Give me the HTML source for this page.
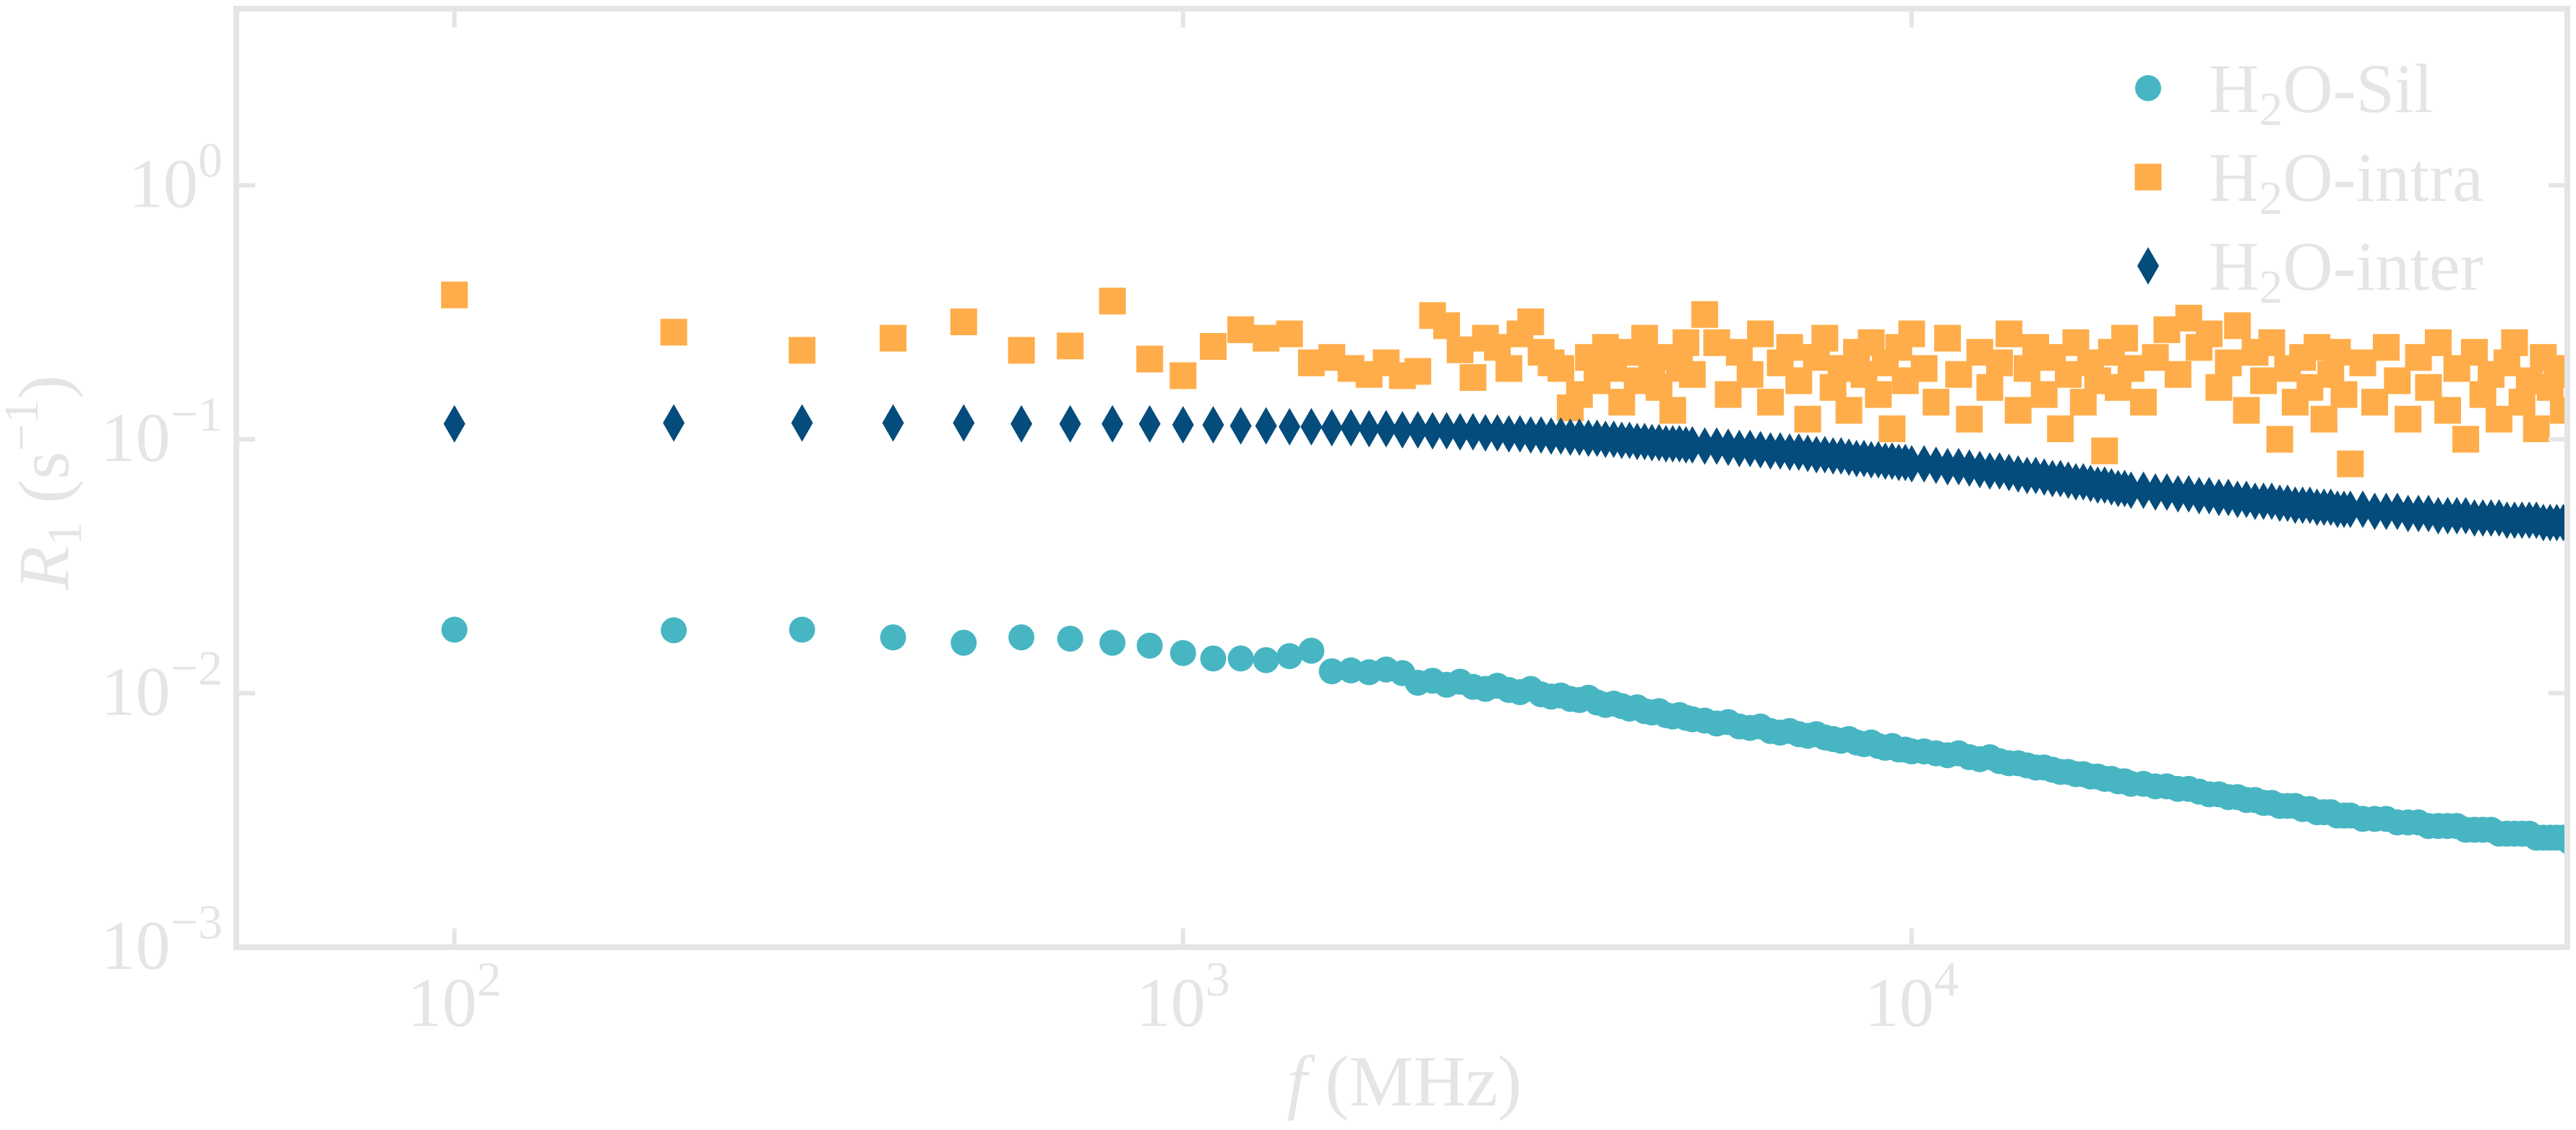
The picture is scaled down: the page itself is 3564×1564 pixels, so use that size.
<!DOCTYPE html>
<html><head><meta charset="utf-8">
<style>
html,body{margin:0;padding:0;background:#fff;}
svg{display:block;font-family:"Liberation Serif","DejaVu Serif",serif;}
</style></head>
<body>
<svg id="chart" width="3564" height="1564" viewBox="0 0 3564 1564" xmlns="http://www.w3.org/2000/svg">
<g id="marks"></g>
<g id="axes"></g>
<g id="legend"></g>
</svg>
<script>
const freqs = [100,200,300,400,500,600,700,800,900,1000,1100,1200,1300,1400,1500,1600,1700,1800,1900,2000,
2100,2200,2300,2400,2500,2600,2700,2800,2900,3000,3100,3200,3300,3400,3500,3600,3700,3800,3900,4000,4100,4200,4300,4400,4500,4600,4700,4800,4900,5000,
5200,5400,5600,5800,6000,6200,6400,6600,6800,7000,7200,7400,7600,7800,8000,8200,8400,8600,8800,9000,9200,9400,9600,9800,10000,
10400,10800,11200,11600,12000,12400,12800,13200,13600,14000,14400,14800,15200,15600,16000,16400,16800,17200,17600,18000,18400,18800,19200,19600,20000,
20800,21600,22400,23200,24000,24800,25600,26400,27200,28000,28800,29600,30400,31200,32000,32800,33600,34400,35200,36000,36800,37600,38400,39200,40000,
41600,43200,44800,46400,48000,49600,51200,52800,54400,56000,57600,59200,60800,62400,64000,65600,67200,68800,70400,72000,73600,75200,76800,78400,80000];
const silValues = [.0178,.0177,.0178,.0166,.0158,.0166,.0164,.0158,.0154,.0144,.0137,.0137,.0135,.0140,.0147,.0122,.0123,.0121,.0124,.0120,
.0110,.0112,.0108,.0111,.0106,.0104,.0107,.0103,.0101,.0104,.0099,.0097,.0098,.0095,.0094,.0096,.0092,.0090,.0091,.0089,.0087,.0088,.0085,.0084,.0085,.0082,.0081,.0082,.0080,.0079,
.0078,.0076,.0077,.0074,.0073,.0074,.0071,.0070,.0071,.0069,.0068,.0069,.0067,.0066,.0065,.0066,.0064,.0063,.0064,.0062,.0061,.0062,.0060,.0060,.0059,
.0059,.0058,.0057,.0058,.0056,.0055,.0056,.0054,.0053,.0053,.0052,.0051,.0051,.0050,.0049,.0049,.0048,.0048,.0047,.0047,.0046,.0046,.0045,.0045,.0044,
.0044,.0043,.0043,.0042,.0042,.0041,.0040,.0040,.0039,.0039,.0038,.0038,.0037,.0037,.0036,.0036,.0036,.0035,.0035,.0034,.0034,.0034,.0033,.0033,.0033,
.0032,.0032,.0032,.0031,.0031,.0031,.0030,.0030,.0030,.0030,.0029,.0029,.0029,.0029,.0028,.0028,.0028,.0028,.0028,.0027,.0027,.0027,.0027,.0027,.0026];
const intraValues = [.37,.264,.224,.25,.29,.224,.233,.35,.207,.178,.232,.27,.25,.26,.20,.21,.19,.18,.20,.178,
.185,.307,.28,.225,.175,.25,.23,.19,.26,.29,.22,.20,.19,.133,.15,.21,.17,.23,.19,.14,.22,.17,.25,.20,.16,.21,.13,.19,.24,.18,
.31,.24,.15,.22,.18,.26,.14,.20,.23,.17,.12,.21,.25,.16,.19,.13,.22,.18,.24,.15,.20,.11,.23,.17,.26,
.19,.14,.25,.18,.12,.22,.16,.20,.26,.13,.19,.23,.15,.21,.11,.18,.24,.14,.20,.17,.09,.22,.16,.25,.19,
.14,.21,.27,.18,.30,.23,.26,.16,.20,.28,.13,.22,.17,.24,.10,.19,.14,.21,.16,.23,.12,.18,.22,.15,.08,
.20,.14,.23,.17,.12,.21,.16,.24,.13,.19,.10,.22,.15,.18,.12,.20,.24,.14,.17,.11,.21,.16,.19,.13,.18];
const interValues = [.115,.116,.116,.116,.116,.115,.115,.115,.115,.114,.114,.113,.113,.112,.112,.111,.111,.110,.110,.109,
.109,.108,.108,.107,.107,.106,.106,.105,.105,.104,.104,.103,.103,.102,.102,.101,.101,.100,.100,.099,.099,.098,.098,.097,.097,.096,.096,.096,.095,.095,
.094,.094,.093,.092,.092,.091,.090,.090,.089,.089,.088,.087,.087,.086,.086,.085,.084,.084,.083,.083,.082,.082,.081,.081,.080,
.080,.079,.078,.078,.077,.076,.075,.075,.074,.073,.072,.072,.071,.070,.070,.069,.068,.068,.067,.066,.066,.065,.064,.064,.063,
.063,.062,.062,.061,.061,.060,.060,.059,.059,.058,.058,.057,.057,.057,.056,.056,.055,.055,.055,.054,.054,.054,.053,.053,.053,
.053,.052,.052,.052,.051,.051,.051,.050,.050,.050,.050,.049,.049,.049,.049,.048,.048,.048,.048,.048,.047,.047,.047,.047,.046];
const xTickExps = [2,3,4];
const yTickExps = [0,-1,-2,-3];
const legendLabels = ["-Sil","-intra","-inter"];

const NS = "http://www.w3.org/2000/svg";
const L = 327, R = 3552, T = 12, B = 1311;
const xMin = Math.log10(50.2), xMax = Math.log10(79400);
const yMin = -3, yMax = Math.log10(4.96);
function xs(f){ return L + (Math.log10(f) - xMin) / (xMax - xMin) * (R - L); }
function ys(v){ return B - (Math.log10(v) - yMin) / (yMax - yMin) * (B - T); }
function mk(tag, attrs, parent){ const e = document.createElementNS(NS, tag); for (const k in attrs) e.setAttribute(k, attrs[k]); parent.appendChild(e); return e; }

const marks = document.getElementById('marks');
const clip = mk('clipPath', {id:'clip'}, marks);
mk('rect', {x:L, y:T, width:R-L, height:B-T}, clip);
const COLORS = {sil:'#47b6c2', intra:'#ffad4a', inter:'#044c7c'};
function circle(cx, cy, g){ return mk('ellipse', {cx:cx, cy:cy, rx:18, ry:18, fill:COLORS.sil}, g); }
function square(cx, cy, g){ return mk('rect', {x:cx-18.5, y:cy-18.5, width:37, height:37, fill:COLORS.intra}, g); }
function diamond(cx, cy, g){ return mk('polygon', {points:`${cx},${cy-26} ${cx+15},${cy} ${cx},${cy+26} ${cx-15},${cy}`, fill:COLORS.inter}, g); }

const gs = mk('g', {'clip-path':'url(#clip)'}, marks);


freqs.forEach((f,i)=>{ const e = circle(xs(f), ys(silValues[i]), gs);
  
   });
const gi = mk('g', {'clip-path':'url(#clip)'}, marks);


freqs.forEach((f,i)=>{ const e = square(xs(f), ys(intraValues[i]), gi);
  
   });
const ge = mk('g', {'clip-path':'url(#clip)'}, marks);


freqs.forEach((f,i)=>{ const e = diamond(xs(f), ys(interValues[i]), ge);
  
   });

const axes = document.getElementById('axes');
const GREY = '#e5e5e5';
const frame = mk('rect', {x:L, y:T, width:R-L, height:B-T, fill:'none', stroke:GREY, 'stroke-width':8}, axes);


xTickExps.forEach(p=>{
  const x = xs(Math.pow(10,p));
  mk('line', {x1:x, y1:B, x2:x, y2:B-26, stroke:GREY, 'stroke-width':6}, axes);
  mk('line', {x1:x, y1:T, x2:x, y2:T+26, stroke:GREY, 'stroke-width':6}, axes);
  const t = mk('text', {x:x, y:1420, 'text-anchor':'middle', 'font-size':96, fill:GREY}, axes);
  
  
  t.innerHTML = `10<tspan dy="-42" font-size="68">${p}</tspan>`;
});
yTickExps.forEach(p=>{
  const y = ys(Math.pow(10,p));
  mk('line', {x1:L, y1:y, x2:L+26, y2:y, stroke:GREY, 'stroke-width':6}, axes);
  mk('line', {x1:R, y1:y, x2:R-26, y2:y, stroke:GREY, 'stroke-width':6}, axes);
  const t = mk('text', {x:308, y:y+30, 'text-anchor':'end', 'font-size':96, fill:GREY}, axes);
  
  
  t.innerHTML = `10<tspan dy="-42" font-size="68">${p < 0 ? '\u2212' + (-p) : p}</tspan>`;
});
const xt = mk('text', {x:1943, y:1530, 'text-anchor':'middle', 'font-size':100, fill:GREY}, axes);


xt.innerHTML = '<tspan font-style="italic">f</tspan> (MHz)';
const yt = mk('text', {x:0, y:0, 'text-anchor':'middle', 'font-size':100, fill:GREY, transform:'translate(94,668) rotate(-90)'}, axes);


yt.innerHTML = '<tspan font-style="italic">R</tspan><tspan font-size="68" dy="18">1</tspan><tspan dy="-18"> (s</tspan><tspan font-size="68" dy="-42">\u22121</tspan><tspan dy="42">)</tspan>';

const legend = document.getElementById('legend');
const ly = [122, 245, 368];
const drawers = [circle, square, diamond];
legendLabels.forEach((lab,i)=>{
  const g = mk('g', {}, legend);
  
  
  drawers[i](2972, ly[i], g);
  const t = mk('text', {x:3056, y:ly[i]+33, 'font-size':96, fill:GREY}, g);
  t.innerHTML = `H<tspan font-size="66" dy="18">2</tspan><tspan dy="-18">O${lab}</tspan>`;
});
</script>
</body></html>
